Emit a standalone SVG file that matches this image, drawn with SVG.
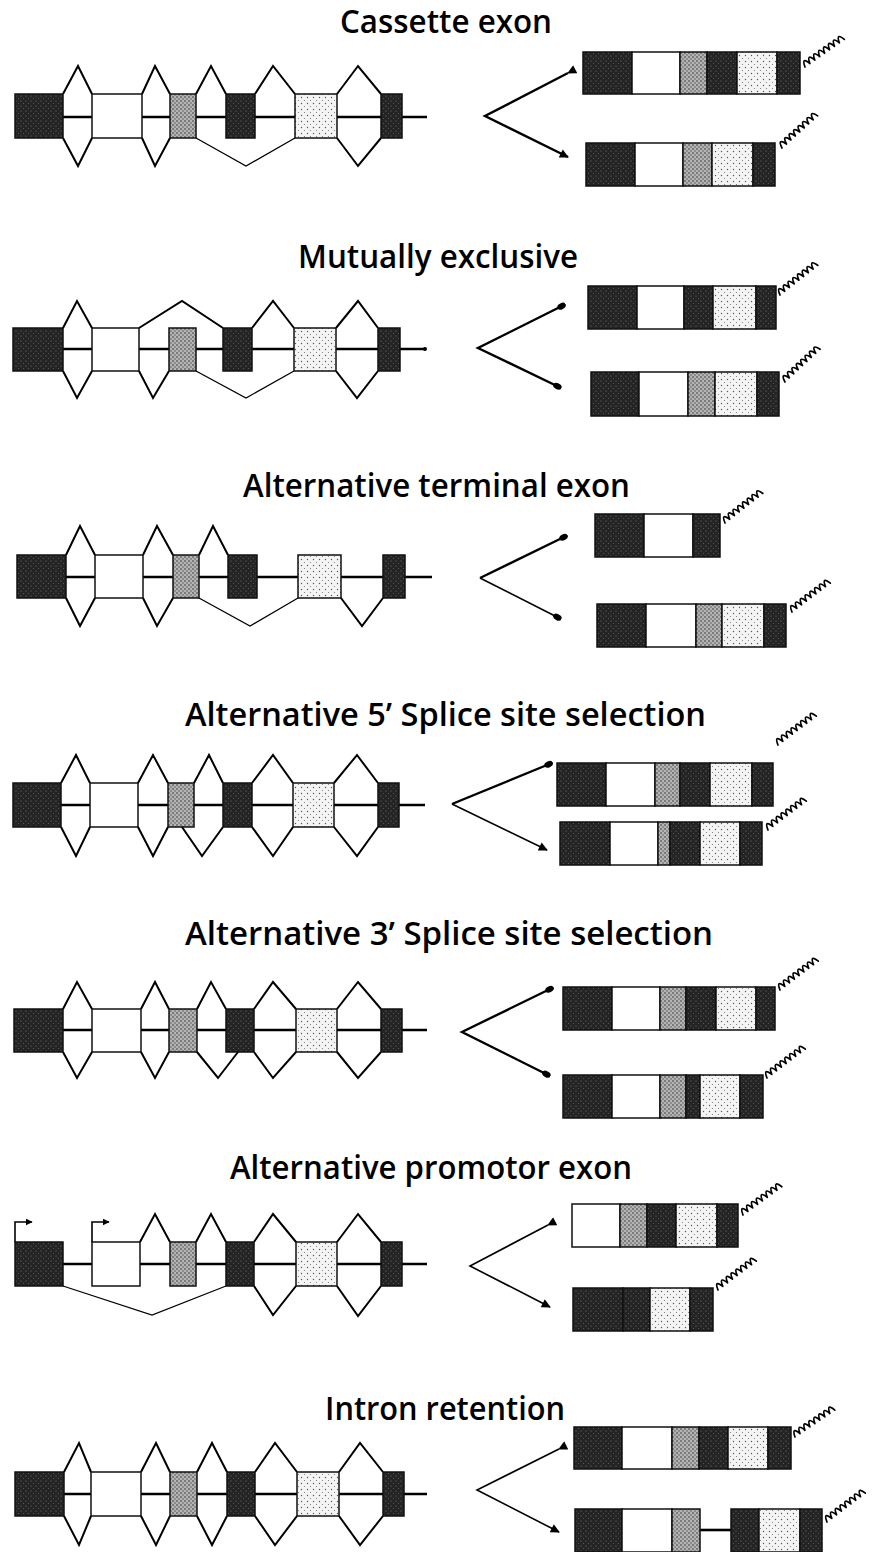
<svg xmlns="http://www.w3.org/2000/svg" width="877" height="1552" viewBox="0 0 877 1552">
<style>
.bg{fill:#fff}
.d{fill:url(#pd);stroke:#111;stroke-width:1.5}
.m{fill:url(#pm);stroke:#111;stroke-width:1.5}
.l{fill:url(#pl);stroke:#111;stroke-width:1.5}
.w{fill:#fff;stroke:#111;stroke-width:1.5}
.intron{stroke:#000;stroke-width:2.6;fill:none}
.sp{fill:none;stroke:#000;stroke-width:2;stroke-linejoin:miter}
.spt{fill:none;stroke:#000;stroke-width:1.3}
.arr{fill:none;stroke:#000;stroke-width:2.4}
.arrt{fill:none;stroke:#000;stroke-width:1.6}
.sq{fill:none;stroke:#000;stroke-width:1.7;stroke-linejoin:round;stroke-linecap:round}
.title{font-family:"Open Sans","DejaVu Sans",sans-serif;font-size:32px;font-weight:600;fill:#000}
</style>
<defs>
<pattern id="pd" width="5" height="5" patternUnits="userSpaceOnUse"><rect width="5" height="5" fill="#242424"/><circle cx="1" cy="1" r="0.6" fill="#777"/><circle cx="3.5" cy="3.5" r="0.5" fill="#666"/></pattern>
<pattern id="pm" width="4" height="4" patternUnits="userSpaceOnUse"><rect width="4" height="4" fill="#b4b4b4"/><circle cx="1" cy="1" r="0.8" fill="#333"/><circle cx="3" cy="3" r="0.7" fill="#444"/></pattern>
<pattern id="pl" width="6" height="6" patternUnits="userSpaceOnUse"><rect width="6" height="6" fill="#f4f4f4"/><circle cx="1.5" cy="1.5" r="0.7" fill="#555"/><circle cx="4.5" cy="4.5" r="0.6" fill="#777"/></pattern>
<marker id="ah" viewBox="0 0 10 10" refX="9" refY="5" markerWidth="11" markerHeight="9" orient="auto" markerUnits="userSpaceOnUse"><path d="M0,0 L10,5 L0,10 z" fill="#000"/></marker>
<marker id="dot" viewBox="0 0 10 10" refX="7" refY="5" markerWidth="9" markerHeight="9" orient="auto" markerUnits="userSpaceOnUse"><ellipse cx="5" cy="5" rx="5" ry="3.4" fill="#000"/></marker>
<marker id="pa" viewBox="0 0 10 10" refX="9" refY="5" markerWidth="7" markerHeight="7" orient="auto" markerUnits="userSpaceOnUse"><path d="M0,0 L10,5 L0,10 z" fill="#000"/></marker>
<path id="squig" d="M0,0 q3,-11 6,0 q3,-11 6,0 q3,-11 6,0 q3,-11 6,0 q3,-11 6,0 q3,-11 6,0 q3,-11 6,0 q3,-11 6,0"/>
</defs>
<rect class="bg" x="0" y="0" width="877" height="1552"/>

<!-- ========== Panel 1: Cassette exon ========== -->
<g id="panel-cassette">
<text class="title" x="340" y="33" textLength="212" lengthAdjust="spacingAndGlyphs">Cassette exon</text>
<g id="gene-cassette">
<line class="intron" x1="15" y1="117" x2="427" y2="117"/>
<rect class="d" x="15" y="94" width="48" height="44"/>
<rect class="w" x="92" y="94" width="50" height="44"/>
<rect class="m" x="170" y="94" width="26" height="44"/>
<rect class="d" x="226" y="94" width="29" height="44"/>
<rect class="l" x="295" y="94" width="42" height="44"/>
<rect class="d" x="381" y="94" width="21" height="44"/>
</g>
<g id="mrna-cassette-1">
<rect class="d" x="583" y="52" width="49" height="42"/>
<rect class="w" x="632" y="52" width="48" height="42"/>
<rect class="m" x="680" y="52" width="27" height="42"/>
<rect class="d" x="707" y="52" width="30" height="42"/>
<rect class="l" x="737" y="52" width="40" height="42"/>
<rect class="d" x="777" y="52" width="23" height="42"/>
<use href="#squig" class="sq" transform="translate(805,67) rotate(-35)"/>
</g>
<g id="mrna-cassette-2">
<rect class="d" x="586" y="143" width="49" height="43"/>
<rect class="w" x="635" y="143" width="48" height="43"/>
<rect class="m" x="683" y="143" width="29" height="43"/>
<rect class="l" x="712" y="143" width="41" height="43"/>
<rect class="d" x="753" y="143" width="22" height="43"/>
<use href="#squig" class="sq" transform="translate(782,148) rotate(-42)"/>
</g>
</g>

<!-- ========== Panel 2: Mutually exclusive ========== -->
<g id="panel-mutex">
<text class="title" x="298" y="268" textLength="280" lengthAdjust="spacingAndGlyphs">Mutually exclusive</text>
<g id="gene-mutex">
<line class="intron" x1="13" y1="349" x2="425" y2="349"/>
<circle cx="425" cy="349" r="2"/>
<rect class="d" x="13" y="328" width="50" height="43"/>
<rect class="w" x="92" y="328" width="47" height="43"/>
<rect class="m" x="169" y="328" width="27" height="43"/>
<rect class="d" x="223" y="328" width="29" height="43"/>
<rect class="l" x="294" y="328" width="42" height="43"/>
<rect class="d" x="378" y="328" width="22" height="43"/>
</g>
<g id="mrna-mutex-1">
<rect class="d" x="588" y="286" width="49" height="43"/>
<rect class="w" x="637" y="286" width="47" height="43"/>
<rect class="d" x="684" y="286" width="29" height="43"/>
<rect class="l" x="713" y="286" width="43" height="43"/>
<rect class="d" x="756" y="286" width="20" height="43"/>
<use href="#squig" class="sq" transform="translate(780,295) rotate(-38)"/>
</g>
<g id="mrna-mutex-2">
<rect class="d" x="591" y="372" width="48" height="44"/>
<rect class="w" x="639" y="372" width="49" height="44"/>
<rect class="m" x="688" y="372" width="27" height="44"/>
<rect class="l" x="715" y="372" width="42" height="44"/>
<rect class="d" x="757" y="372" width="22" height="44"/>
<use href="#squig" class="sq" transform="translate(785,382) rotate(-43)"/>
</g>
</g>

<!-- ========== Panel 3: Alternative terminal exon ========== -->
<g id="panel-terminal">
<text class="title" x="243" y="497" textLength="387" lengthAdjust="spacingAndGlyphs">Alternative terminal exon</text>
<g id="gene-terminal">
<line class="intron" x1="17" y1="577" x2="432" y2="577"/>
<rect class="d" x="17" y="555" width="49" height="43"/>
<rect class="w" x="95" y="555" width="48" height="43"/>
<rect class="m" x="173" y="555" width="26" height="43"/>
<rect class="d" x="228" y="555" width="29" height="43"/>
<rect class="l" x="298" y="555" width="43" height="43"/>
<rect class="d" x="383" y="555" width="22" height="43"/>
</g>
<g id="mrna-terminal-1">
<rect class="d" x="595" y="514" width="49" height="43"/>
<rect class="w" x="644" y="514" width="49" height="43"/>
<rect class="d" x="693" y="514" width="27" height="43"/>
<use href="#squig" class="sq" transform="translate(725,523) rotate(-38)"/>
</g>
<g id="mrna-terminal-2">
<rect class="d" x="597" y="604" width="49" height="43"/>
<rect class="w" x="646" y="604" width="50" height="43"/>
<rect class="m" x="696" y="604" width="26" height="43"/>
<rect class="l" x="722" y="604" width="42" height="43"/>
<rect class="d" x="764" y="604" width="22" height="43"/>
<use href="#squig" class="sq" transform="translate(792,612) rotate(-37)"/>
</g>
</g>

<!-- ========== Panel 4: Alternative 5' splice site ========== -->
<g id="panel-alt5">
<text class="title" x="185" y="726" textLength="521" lengthAdjust="spacingAndGlyphs">Alternative 5’ Splice site selection</text>
<g id="gene-alt5">
<line class="intron" x1="13" y1="805" x2="425" y2="805"/>
<rect class="d" x="13" y="783" width="48" height="44"/>
<rect class="w" x="90" y="783" width="48" height="44"/>
<rect class="m" x="168" y="783" width="26" height="44"/>
<rect class="d" x="223" y="783" width="29" height="44"/>
<rect class="l" x="293" y="783" width="41" height="44"/>
<rect class="d" x="378" y="783" width="21" height="44"/>
</g>
<g id="mrna-alt5-1">
<rect class="d" x="557" y="763" width="49" height="43"/>
<rect class="w" x="606" y="763" width="49" height="43"/>
<rect class="m" x="655" y="763" width="25" height="43"/>
<rect class="d" x="680" y="763" width="30" height="43"/>
<rect class="l" x="710" y="763" width="42" height="43"/>
<rect class="d" x="752" y="763" width="21" height="43"/>
<use href="#squig" class="sq" transform="translate(778,745) rotate(-37)"/>
</g>
<g id="mrna-alt5-2">
<rect class="d" x="560" y="822" width="50" height="43"/>
<rect class="w" x="610" y="822" width="48" height="43"/>
<rect class="m" x="658" y="822" width="12" height="43"/>
<rect class="d" x="670" y="822" width="30" height="43"/>
<rect class="l" x="700" y="822" width="40" height="43"/>
<rect class="d" x="740" y="822" width="22" height="43"/>
<use href="#squig" class="sq" transform="translate(768,830) rotate(-37)"/>
</g>
</g>

<!-- ========== Panel 5: Alternative 3' splice site ========== -->
<g id="panel-alt3">
<text class="title" x="185" y="945" textLength="528" lengthAdjust="spacingAndGlyphs">Alternative 3’ Splice site selection</text>
<g id="gene-alt3">
<line class="intron" x1="14" y1="1030" x2="427" y2="1030"/>
<rect class="d" x="14" y="1009" width="49" height="43"/>
<rect class="w" x="92" y="1009" width="49" height="43"/>
<rect class="m" x="169" y="1009" width="28" height="43"/>
<rect class="d" x="226" y="1009" width="28" height="43"/>
<rect class="l" x="296" y="1009" width="41" height="43"/>
<rect class="d" x="381" y="1009" width="21" height="43"/>
</g>
<g id="mrna-alt3-1">
<rect class="d" x="563" y="987" width="49" height="43"/>
<rect class="w" x="612" y="987" width="48" height="43"/>
<rect class="m" x="660" y="987" width="26" height="43"/>
<rect class="d" x="686" y="987" width="30" height="43"/>
<rect class="l" x="716" y="987" width="40" height="43"/>
<rect class="d" x="756" y="987" width="19" height="43"/>
<use href="#squig" class="sq" transform="translate(780,990) rotate(-37)"/>
</g>
<g id="mrna-alt3-2">
<rect class="d" x="563" y="1075" width="49" height="43"/>
<rect class="w" x="612" y="1075" width="48" height="43"/>
<rect class="m" x="660" y="1075" width="26" height="43"/>
<rect class="d" x="686" y="1075" width="14" height="43"/>
<rect class="l" x="700" y="1075" width="40" height="43"/>
<rect class="d" x="740" y="1075" width="23" height="43"/>
<use href="#squig" class="sq" transform="translate(767,1078) rotate(-37)"/>
</g>
</g>

<!-- ========== Panel 6: Alternative promotor exon ========== -->
<g id="panel-promotor">
<text class="title" x="230" y="1179" textLength="402" lengthAdjust="spacingAndGlyphs">Alternative promotor exon</text>
<g id="gene-promotor">
<line class="intron" x1="15" y1="1264" x2="427" y2="1264"/>
<rect class="d" x="15" y="1242" width="48" height="44"/>
<rect class="w" x="92" y="1242" width="48" height="44"/>
<rect class="m" x="170" y="1242" width="26" height="44"/>
<rect class="d" x="226" y="1242" width="28" height="44"/>
<rect class="l" x="296" y="1242" width="41" height="44"/>
<rect class="d" x="381" y="1242" width="21" height="44"/>
<path class="arrt" d="M15,1242 V1222 H32" marker-end="url(#pa)"/>
<path class="arrt" d="M92,1242 V1222 H109" marker-end="url(#pa)"/>
</g>
<g id="mrna-promotor-1">
<rect class="w" x="572" y="1204" width="48" height="43"/>
<rect class="m" x="620" y="1204" width="27" height="43"/>
<rect class="d" x="647" y="1204" width="29" height="43"/>
<rect class="l" x="676" y="1204" width="41" height="43"/>
<rect class="d" x="717" y="1204" width="21" height="43"/>
<use href="#squig" class="sq" transform="translate(743,1215) rotate(-36)"/>
</g>
<g id="mrna-promotor-2">
<rect class="d" x="573" y="1288" width="50" height="43"/>
<rect class="d" x="623" y="1288" width="27" height="43"/>
<rect class="l" x="650" y="1288" width="40" height="43"/>
<rect class="d" x="690" y="1288" width="23" height="43"/>
<use href="#squig" class="sq" transform="translate(718,1290) rotate(-37)"/>
</g>
</g>

<!-- ========== Panel 7: Intron retention ========== -->
<g id="panel-intron">
<text class="title" x="325" y="1420" textLength="240" lengthAdjust="spacingAndGlyphs">Intron retention</text>
<g id="gene-intron">
<line class="intron" x1="15" y1="1494" x2="427" y2="1494"/>
<rect class="d" x="15" y="1472" width="49" height="44"/>
<rect class="w" x="91" y="1472" width="50" height="44"/>
<rect class="m" x="170" y="1472" width="27" height="44"/>
<rect class="d" x="227" y="1472" width="28" height="44"/>
<rect class="l" x="297" y="1472" width="42" height="44"/>
<rect class="d" x="383" y="1472" width="21" height="44"/>
</g>
<g id="mrna-intron-1">
<rect class="d" x="574" y="1427" width="48" height="42"/>
<rect class="w" x="622" y="1427" width="50" height="42"/>
<rect class="m" x="672" y="1427" width="27" height="42"/>
<rect class="d" x="699" y="1427" width="29" height="42"/>
<rect class="l" x="728" y="1427" width="40" height="42"/>
<rect class="d" x="768" y="1427" width="23" height="42"/>
<use href="#squig" class="sq" transform="translate(795,1437) rotate(-34)"/>
</g>
<g id="mrna-intron-2">
<line class="intron" x1="700" y1="1530" x2="731" y2="1530"/>
<rect class="d" x="575" y="1509" width="47" height="43"/>
<rect class="w" x="622" y="1509" width="50" height="43"/>
<rect class="m" x="672" y="1509" width="28" height="43"/>
<rect class="d" x="731" y="1509" width="28" height="43"/>
<rect class="l" x="759" y="1509" width="41" height="43"/>
<rect class="d" x="800" y="1509" width="22" height="43"/>
<use href="#squig" class="sq" transform="translate(827,1522) rotate(-37)"/>
</g>
</g>

<!-- ========== Connectors ========== -->
<g id="connectors">
<g id="conn-cassette">
<path class="sp" d="M63,94 L78,66 L92,94 M142,94 L155,66 L170,94 M196,94 L211,66 L226,94 M255,94 L273,66 L295,94 M337,94 L358,66 L381,94"/>
<path class="sp" d="M63,138 L78,166 L92,138 M142,138 L155,166 L170,138 M337,138 L358,166 L381,138"/>
<path class="spt" d="M196,138 L246,166 L295,138"/>
<path class="arr" d="M568,73 L485,116 L568,157" marker-start="url(#ah)" marker-end="url(#ah)"/>
</g>
<g id="conn-mutex">
<path class="sp" d="M63,328 L77,301 L92,328 M139,328 L182,301 L223,328 M252,328 L273,301 L294,328 M336,328 L358,301 L378,328"/>
<path class="sp" d="M63,371 L77,398 L92,371 M139,371 L153,398 L169,371 M336,371 L357,398 L378,371"/>
<path class="spt" d="M196,371 L246,398 L294,371"/>
<path class="arr" d="M560,307 L478,348 L559,387" marker-start="url(#dot)" marker-end="url(#dot)"/>
</g>
<g id="conn-terminal">
<path class="sp" d="M66,555 L80,526 L95,555 M143,555 L157,526 L173,555 M199,555 L213,526 L228,555"/>
<path class="sp" d="M66,598 L80,626 L95,598 M143,598 L157,626 L173,598 M341,598 L362,626 L383,598"/>
<path class="spt" d="M199,598 L250,626 L298,598"/>
<path class="arr" d="M562,538 L480,578" marker-start="url(#dot)"/>
<path class="arrt" d="M480,578 L559,618" marker-end="url(#dot)"/>
</g>
<g id="conn-alt5">
<path class="sp" d="M61,783 L76,755 L90,783 M138,783 L153,755 L168,783 M194,783 L209,755 L223,783 M252,783 L273,755 L293,783 M334,783 L357,755 L378,783"/>
<path class="sp" d="M61,827 L76,856 L90,827 M138,827 L153,856 L168,827 M182,827 L202,856 L223,827 M252,827 L273,856 L293,827 M334,827 L357,856 L378,827"/>
<path class="arr" d="M547,765 L452,804" marker-start="url(#dot)"/>
<path class="arrt" d="M452,804 L547,850" marker-end="url(#ah)"/>
</g>
<g id="conn-alt3">
<path class="sp" d="M63,1009 L77,982 L92,1009 M141,1009 L155,982 L169,1009 M197,1009 L211,982 L226,1009 M254,1009 L273,982 L296,1009 M337,1009 L358,982 L381,1009"/>
<path class="sp" d="M63,1052 L77,1078 L92,1052 M141,1052 L155,1078 L169,1052 M197,1052 L218,1078 L238,1052 M254,1052 L273,1078 L296,1052 M337,1052 L358,1078 L381,1052"/>
<path class="arr" d="M548,990 L462,1032 L548,1075" marker-start="url(#dot)" marker-end="url(#dot)"/>
</g>
<g id="conn-promotor">
<path class="sp" d="M140,1242 L155,1214 L170,1242 M196,1242 L211,1214 L226,1242 M254,1242 L273,1214 L296,1242 M337,1242 L358,1214 L381,1242"/>
<path class="spt" d="M63,1286 L152,1315 L226,1286"/>
<path class="sp" d="M254,1286 L273,1315 L296,1286 M337,1286 L358,1316 L381,1286"/>
<path class="arrt" d="M548,1225 L470,1266 L550,1307" marker-start="url(#ah)" marker-end="url(#ah)"/>
</g>
<g id="conn-intron">
<path class="sp" d="M64,1472 L79,1443 L91,1472 M141,1472 L156,1443 L170,1472 M197,1472 L212,1443 L227,1472 M255,1472 L275,1443 L297,1472 M339,1472 L360,1443 L383,1472"/>
<path class="sp" d="M64,1516 L79,1545 L91,1516 M141,1516 L156,1545 L170,1516 M197,1516 L212,1545 L227,1516 M255,1516 L275,1545 L297,1516 M339,1516 L360,1545 L383,1516"/>
<path class="arrt" d="M559,1449 L477,1490 L559,1532" marker-start="url(#ah)" marker-end="url(#ah)"/>
</g>
</g>
</svg>
